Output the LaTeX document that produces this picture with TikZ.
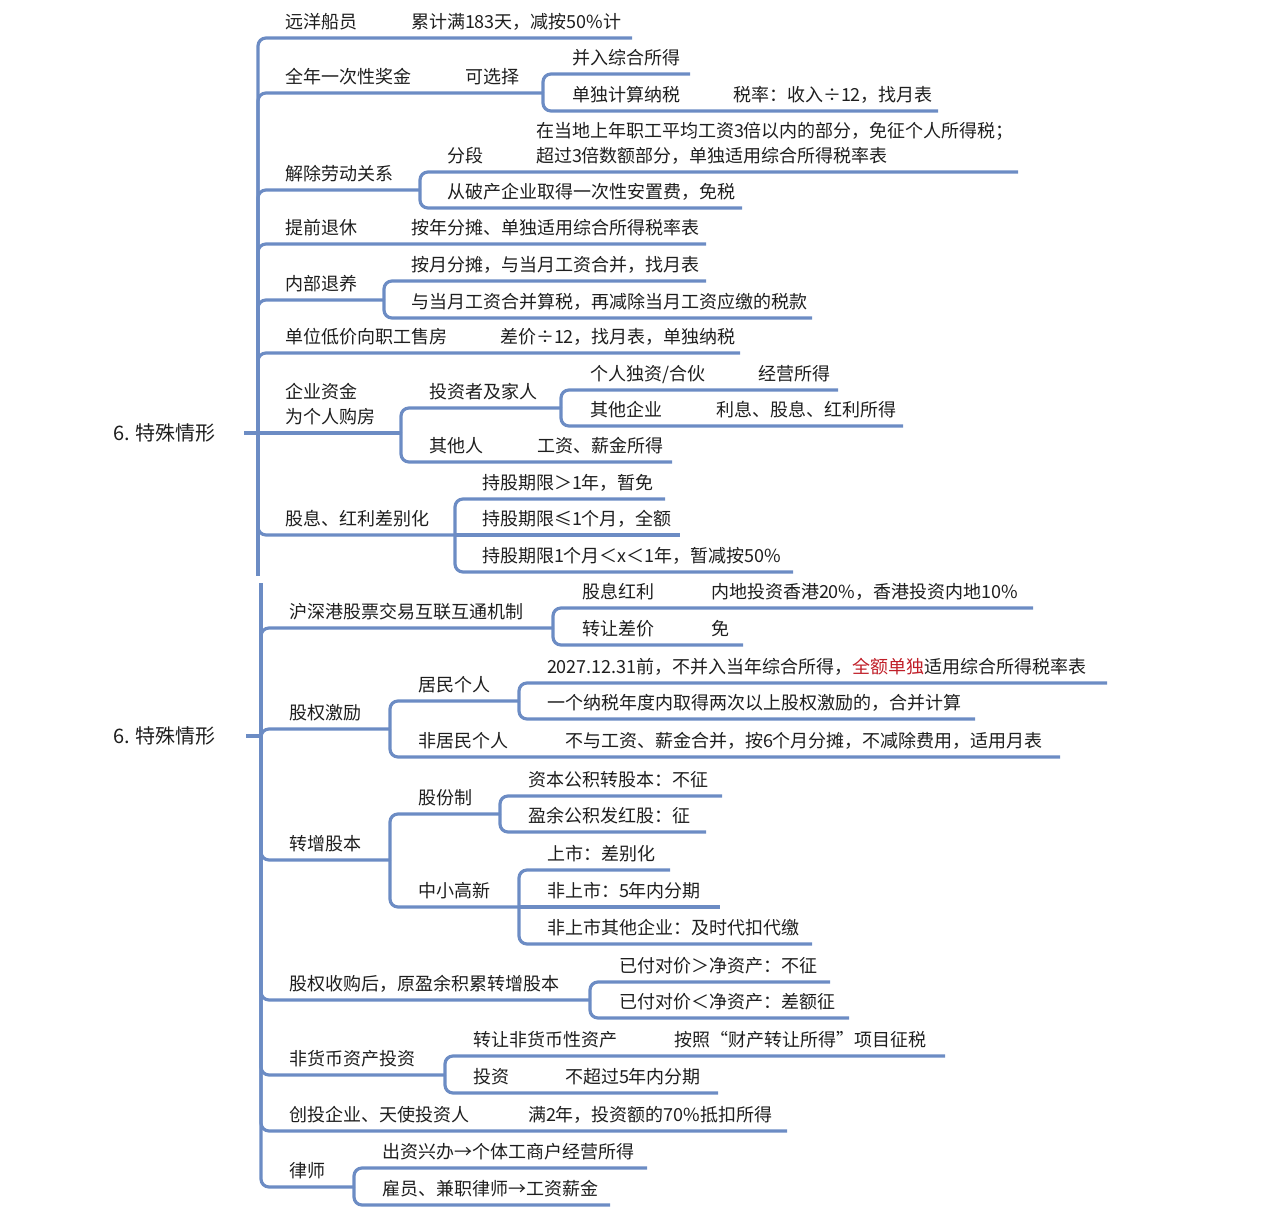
\documentclass[tikz,border=0pt]{standalone}
\usepackage{fontspec}
\setmainfont{Noto Sans CJK SC}
\definecolor{linkblue}{RGB}{108,140,196}
\definecolor{inkgray}{RGB}{30,30,30}
\definecolor{hired}{RGB}{192,30,40}

\begin{document}
\begin{tikzpicture}[x=1pt, y=-1pt,
            topic/.style={anchor=south west, inner sep=0pt, outer xsep=0pt, outer ysep=9.5pt, text depth=0pt, align=left, text=inkgray, font=\fontsize{18}{24.5}\selectfont},
            root/.style={anchor=base west, inner sep=0pt, text=inkgray, font=\fontsize{20}{24}\selectfont},
            link/.style={draw=linkblue, line width=3.2pt, rounded corners=8pt}]
            \useasboundingbox (0,0) rectangle (1267,1222);

            \node[root] (r1) at (113,440.5) {6. 特殊情形};
            \coordinate (f1) at (258,433);
            \coordinate (t1) at (258,576);
            \draw[link] (r1.east) ++(28pt,0) -- (r1.east -| f1);
            \draw[link] (f1) -- (t1);

            \node[topic] (ycy) at (285,38) {远洋船员};
            \node[topic] (ycyT) at (411,38) {累计满183天，减按50\%计};
            \coordinate (ycyE) at (632,38);
            \draw[link] (f1) |- (ycy.south west) -- (ycyT.south west) -- (ycyE);

            \node[topic] (qnj) at (285,93) {全年一次性奖金};
            \node[topic] (kxz) at (465,93) {可选择};
            \coordinate (kxzF) at (543,93);
            \draw[link] (f1) |- (qnj.south west) -- (kxz.south west) -- (kxzF);
            \node[topic] (brzh) at (572,74) {并入综合所得};
            \coordinate (brzhE) at (690,74);
            \draw[link] (kxzF) |- (brzh.south west) -- (brzhE);
            \node[topic] (djjs) at (572,111) {单独计算纳税};
            \node[topic] (djjsT) at (733,111) {税率：收入÷12，找月表};
            \coordinate (djjsE) at (938,111);
            \draw[link] (kxzF) |- (djjs.south west) -- (djjsT.south west) -- (djjsE);

            \node[topic] (jclg) at (285,190) {解除劳动关系};
            \coordinate (jclgF) at (420,190);
            \draw[link] (f1) |- (jclg.south west) -- (jclgF);
            \node[topic] (fd) at (447,172) {分段};
            \node[topic, font=\fontsize{18}{25}\selectfont] (fdT) at (536,172) {在当地上年职工平均工资3倍以内的部分，免征个人所得税；\\超过3倍数额部分，单独适用综合所得税率表};
            \coordinate (fdE) at (1018,172);
            \draw[link] (jclgF) |- (fd.south west) -- (fdT.south west) -- (fdE);
            \node[topic] (pc) at (447,208) {从破产企业取得一次性安置费，免税};
            \coordinate (pcE) at (742,208);
            \draw[link] (jclgF) |- (pc.south west) -- (pcE);

            \node[topic] (tqtx) at (285,244) {提前退休};
            \node[topic] (tqtxT) at (411,244) {按年分摊、单独适用综合所得税率表};
            \coordinate (tqtxE) at (706,244);
            \draw[link] (f1) |- (tqtx.south west) -- (tqtxT.south west) -- (tqtxE);

            \node[topic] (nbty) at (285,300) {内部退养};
            \coordinate (nbtyF) at (384,300);
            \draw[link] (f1) |- (nbty.south west) -- (nbtyF);
            \node[topic] (aydt) at (411,281) {按月分摊，与当月工资合并，找月表};
            \coordinate (aydtE) at (706,281);
            \draw[link] (nbtyF) |- (aydt.south west) -- (aydtE);
            \node[topic] (hbss) at (411,318) {与当月工资合并算税，再减除当月工资应缴的税款};
            \coordinate (hbssE) at (812,318);
            \draw[link] (nbtyF) |- (hbss.south west) -- (hbssE);

            \node[topic] (dwsf) at (285,353) {单位低价向职工售房};
            \node[topic] (dwsfT) at (500,353) {差价÷12，找月表，单独纳税};
            \coordinate (dwsfE) at (740,353);
            \draw[link] (f1) |- (dwsf.south west) -- (dwsfT.south west) -- (dwsfE);

            \node[topic] (qygf) at (285,433) {企业资金\\为个人购房};
            \coordinate (qygfF) at (401,433);
            \draw[link] (f1) -- (qygf.south west) -- (qygfF);
            \node[topic] (tzz) at (429,408) {投资者及家人};
            \coordinate (tzzF) at (561,408);
            \draw[link] (qygfF) |- (tzz.south west) -- (tzzF);
            \node[topic] (grdz) at (590,390) {个人独资/合伙};
            \node[topic] (grdzT) at (758,390) {经营所得};
            \coordinate (grdzE) at (838,390);
            \draw[link] (tzzF) |- (grdz.south west) -- (grdzT.south west) -- (grdzE);
            \node[topic] (qtqy) at (590,426) {其他企业};
            \node[topic] (qtqyT) at (716,426) {利息、股息、红利所得};
            \coordinate (qtqyE) at (903,426);
            \draw[link] (tzzF) |- (qtqy.south west) -- (qtqyT.south west) -- (qtqyE);
            \node[topic] (qtr) at (429,462) {其他人};
            \node[topic] (qtrT) at (537,462) {工资、薪金所得};
            \coordinate (qtrE) at (672,462);
            \draw[link] (qygfF) |- (qtr.south west) -- (qtrT.south west) -- (qtrE);

            \node[topic] (gxcb) at (285,535) {股息、红利差别化};
            \coordinate (gxcbF) at (455,535);
            \draw[link] (f1) |- (gxcb.south west) -- (gxcbF);
            \node[topic] (cgA) at (482,499) {持股期限＞1年，暂免};
            \coordinate (cgAE) at (665,499);
            \draw[link] (gxcbF) |- (cgA.south west) -- (cgAE);
            \node[topic] (cgB) at (482,535) {持股期限≤1个月，全额};
            \coordinate (cgBE) at (680,535);
            \draw[link] (gxcbF) -- (cgB.south west) -- (cgBE);
            \node[topic] (cgC) at (482,572) {持股期限1个月＜x＜1年，暂减按50\%};
            \coordinate (cgCE) at (793,572);
            \draw[link] (gxcbF) |- (cgC.south west) -- (cgCE);

            \node[root] (r2) at (113,743.5) {6. 特殊情形};
            \coordinate (f2) at (261,736);
            \coordinate (t2) at (261,583);
            \draw[link] (r2.east) ++(30pt,0) -- (r2.east -| f2);
            \draw[link] (t2) -- (f2);

            \node[topic] (hsg) at (289,628) {沪深港股票交易互联互通机制};
            \coordinate (hsgF) at (553,628);
            \draw[link] (f2) |- (hsg.south west) -- (hsgF);
            \node[topic] (gxhl) at (582,608) {股息红利};
            \node[topic] (gxhlT) at (711,608) {内地投资香港20\%，香港投资内地10\%};
            \coordinate (gxhlE) at (1033,608);
            \draw[link] (hsgF) |- (gxhl.south west) -- (gxhlT.south west) -- (gxhlE);
            \node[topic] (zrcj) at (582,645) {转让差价};
            \node[topic] (zrcjT) at (711,645) {免};
            \coordinate (zrcjE) at (743,645);
            \draw[link] (hsgF) |- (zrcj.south west) -- (zrcjT.south west) -- (zrcjE);

            \node[topic] (gqjl) at (289,729) {股权激励};
            \coordinate (gqjlF) at (390,729);
            \draw[link] (f2) |- (gqjl.south west) -- (gqjlF);
            \node[topic] (jmgr) at (418,701) {居民个人};
            \coordinate (jmgrF) at (519,701);
            \draw[link] (gqjlF) |- (jmgr.south west) -- (jmgrF);
            \node[topic] (bbr) at (547,683) {2027.12.31前，不并入当年综合所得，{\color{hired}全额单独}适用综合所得税率表};
            \coordinate (bbrE) at (1107,683);
            \draw[link] (jmgrF) |- (bbr.south west) -- (bbrE);
            \node[topic] (lchb) at (547,719) {一个纳税年度内取得两次以上股权激励的，合并计算};
            \coordinate (lchbE) at (975,719);
            \draw[link] (jmgrF) |- (lchb.south west) -- (lchbE);
            \node[topic] (fjm) at (418,757) {非居民个人};
            \node[topic] (fjmT) at (565,757) {不与工资、薪金合并，按6个月分摊，不减除费用，适用月表};
            \coordinate (fjmE) at (1060,757);
            \draw[link] (gqjlF) |- (fjm.south west) -- (fjmT.south west) -- (fjmE);

            \node[topic] (zzgb) at (289,860) {转增股本};
            \coordinate (zzgbF) at (390,860);
            \draw[link] (f2) |- (zzgb.south west) -- (zzgbF);
            \node[topic] (gfz) at (418,814) {股份制};
            \coordinate (gfzF) at (500,814);
            \draw[link] (zzgbF) |- (gfz.south west) -- (gfzF);
            \node[topic] (zbgj) at (528,796) {资本公积转股本：不征};
            \coordinate (zbgjE) at (722,796);
            \draw[link] (gfzF) |- (zbgj.south west) -- (zbgjE);
            \node[topic] (yygj) at (528,832) {盈余公积发红股：征};
            \coordinate (yygjE) at (706,832);
            \draw[link] (gfzF) |- (yygj.south west) -- (yygjE);
            \node[topic] (zxgx) at (418,907) {中小高新};
            \coordinate (zxgxF) at (519,907);
            \draw[link] (zzgbF) |- (zxgx.south west) -- (zxgxF);
            \node[topic] (ss) at (547,870) {上市：差别化};
            \coordinate (ssE) at (670,870);
            \draw[link] (zxgxF) |- (ss.south west) -- (ssE);
            \node[topic] (fss) at (547,907) {非上市：5年内分期};
            \coordinate (fssE) at (720,907);
            \draw[link] (zxgxF) -- (fss.south west) -- (fssE);
            \node[topic] (fsqt) at (547,944) {非上市其他企业：及时代扣代缴};
            \coordinate (fsqtE) at (812,944);
            \draw[link] (zxgxF) |- (fsqt.south west) -- (fsqtE);

            \node[topic] (gqsg) at (289,1000) {股权收购后，原盈余积累转增股本};
            \coordinate (gqsgF) at (590,1000);
            \draw[link] (f2) |- (gqsg.south west) -- (gqsgF);
            \node[topic] (dja) at (619,982) {已付对价＞净资产：不征};
            \coordinate (djaE) at (830,982);
            \draw[link] (gqsgF) |- (dja.south west) -- (djaE);
            \node[topic] (djb) at (619,1018) {已付对价＜净资产：差额征};
            \coordinate (djbE) at (849,1018);
            \draw[link] (gqsgF) |- (djb.south west) -- (djbE);

            \node[topic] (fhb) at (289,1075) {非货币资产投资};
            \coordinate (fhbF) at (445,1075);
            \draw[link] (f2) |- (fhb.south west) -- (fhbF);
            \node[topic] (zrfh) at (473,1056) {转让非货币性资产};
            \node[topic] (zrfhT) at (674,1056) {按照“财产转让所得”项目征税};
            \coordinate (zrfhE) at (945,1056);
            \draw[link] (fhbF) |- (zrfh.south west) -- (zrfhT.south west) -- (zrfhE);
            \node[topic] (tz) at (473,1093) {投资};
            \node[topic] (tzT) at (565,1093) {不超过5年内分期};
            \coordinate (tzE) at (718,1093);
            \draw[link] (fhbF) |- (tz.south west) -- (tzT.south west) -- (tzE);

            \node[topic] (ctqy) at (289,1131) {创投企业、天使投资人};
            \node[topic] (ctqyT) at (528,1131) {满2年，投资额的70\%抵扣所得};
            \coordinate (ctqyE) at (787,1131);
            \draw[link] (f2) |- (ctqy.south west) -- (ctqyT.south west) -- (ctqyE);

            \node[topic] (ls) at (289,1187) {律师};
            \coordinate (lsF) at (354,1187);
            \draw[link] (f2) |- (ls.south west) -- (lsF);
            \node[topic] (czxb) at (382,1168) {出资兴办→个体工商户经营所得};
            \coordinate (czxbE) at (647,1168);
            \draw[link] (lsF) |- (czxb.south west) -- (czxbE);
            \node[topic] (gyjz) at (382,1205) {雇员、兼职律师→工资薪金};
            \coordinate (gyjzE) at (610,1205);
            \draw[link] (lsF) |- (gyjz.south west) -- (gyjzE);
        \end{tikzpicture}
\end{document}
